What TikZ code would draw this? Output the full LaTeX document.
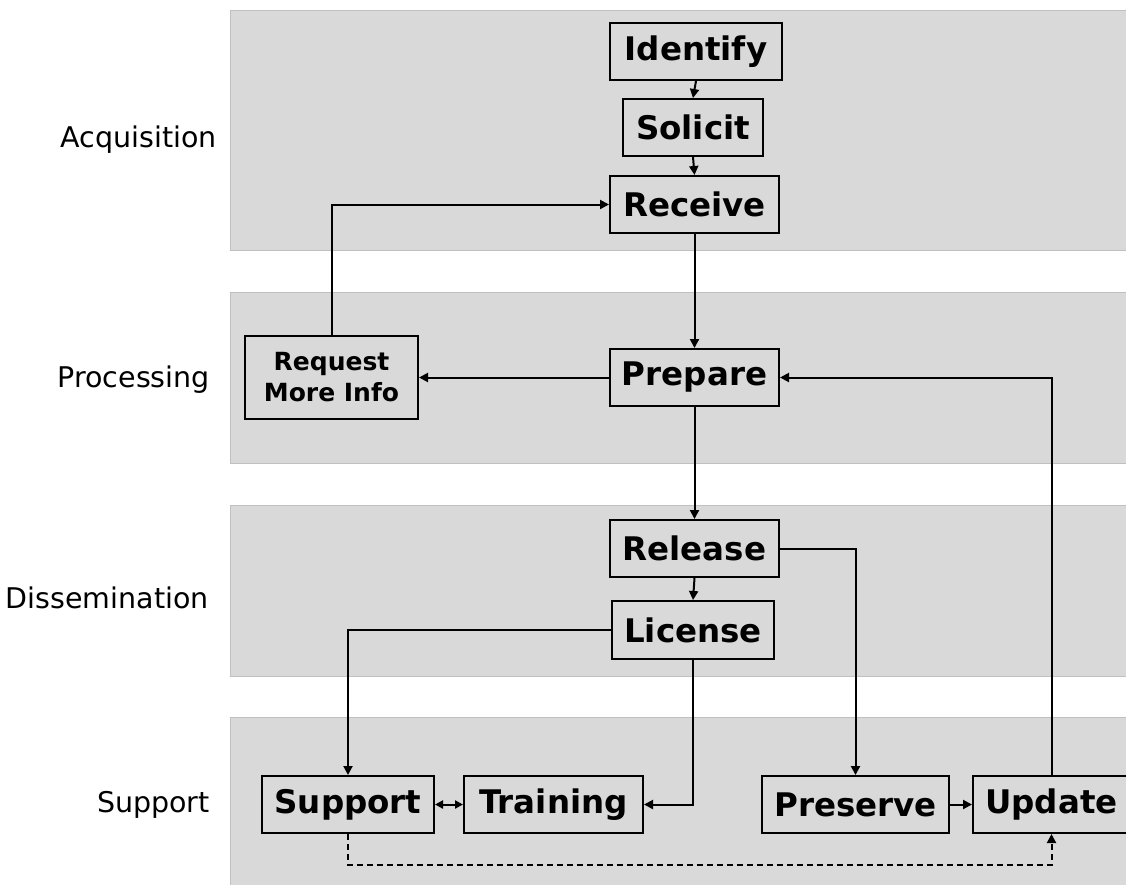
\documentclass[tikz,border=0pt]{standalone}
\usepackage{fontspec}
\setmainfont{DejaVu Sans}
\usetikzlibrary{arrows.meta}
\definecolor{bandgray}{RGB}{217,217,217}
\definecolor{bandedge}{RGB}{192,192,192}
\tikzset{
  band/.style={fill=bandgray, draw=bandedge, line width=1pt},
  lanelabel/.style={anchor=east, inner sep=0pt, font=\fontsize{28.5}{32}\selectfont},
  stepbox/.style={draw=black, line width=2pt, fill=bandgray, inner sep=0pt,
    minimum height=57pt, font=\fontsize{32.5}{38}\selectfont\bfseries},
  flow/.style={line width=2pt, -{Triangle[length=9pt,width=9pt]}},
  twoway/.style={line width=2pt, {Triangle[length=8pt,width=8pt]}-{Triangle[length=8pt,width=8pt]}},
  feedback/.style={flow, dash pattern=on 6pt off 4pt}
}
\begin{document}
\begin{tikzpicture}[x=1pt, y=-1pt]
\useasboundingbox (0,0) rectangle (1126,884);

% swim lanes
\draw[band] (230,10) rectangle (1140,250);
\draw[band] (230,292) rectangle (1140,463);
\draw[band] (230,505) rectangle (1140,676);
\draw[band] (230,717) rectangle (1140,890);

\node[lanelabel] (lacq) at (217,140) {Acquisition};
\node[lanelabel] (lproc) at (210,380) {Processing};
\node[lanelabel] (ldiss) at (209,598) {Dissemination};
\node[lanelabel] (lsupp) at (210,805) {Support};

% steps
\node[stepbox, minimum width=172pt] (identify) at (696,51.5) {Identify};
\node[stepbox, minimum width=140pt] (solicit)  at (693,127.5) {Solicit};
\node[stepbox, minimum width=169pt] (receive)  at (694.5,204.5) {Receive};
\node[stepbox, minimum width=173pt, minimum height=83pt, align=center,
      font=\fontsize{25}{31}\selectfont\bfseries] (request) at (331.5,377.5) {Request\\More Info};
\node[stepbox, minimum width=169pt] (prepare)  at (694.5,377.5) {Prepare};
\node[stepbox, minimum width=169pt] (release)  at (694.5,548.5) {Release};
\node[stepbox, minimum width=162pt, minimum height=58pt] (license) at (693,630) {License};
\node[stepbox, minimum width=172pt] (support)  at (348,804.5) {Support};
\node[stepbox, minimum width=179pt] (training) at (553.5,804.5) {Training};
\node[stepbox, minimum width=187pt] (preserve) at (855.5,804.5) {Preserve};
\node[stepbox, minimum width=157pt] (update)   at (1051.5,804.5) {Update};

% connectors
\draw[flow] (identify.south) -- (solicit.north);
\draw[flow] (solicit.south) -- (receive.north);
\draw[flow] (receive.south) -- (prepare.north);
\draw[flow] (request.north) |- (receive.west);
\draw[flow] (prepare.west) -- (request.east);
\draw[flow] (prepare.south) -- (release.north);
\draw[flow] (release.south) -- (license.north);
\draw[flow] (release.east) -| (preserve.north);
\draw[flow] (license.west) -| (support.north);
\draw[flow] (license.south) |- (training.east);
\draw[twoway] (support.east) -- (training.west);
\draw[flow] (preserve.east) -- (update.west);
\draw[flow] (update.north) |- (prepare.east);
\path (support.south) ++(0,31) coordinate (loopturn);
\draw[feedback] (support.south) -- (loopturn) -| (update.south);
\end{tikzpicture}
\end{document}
